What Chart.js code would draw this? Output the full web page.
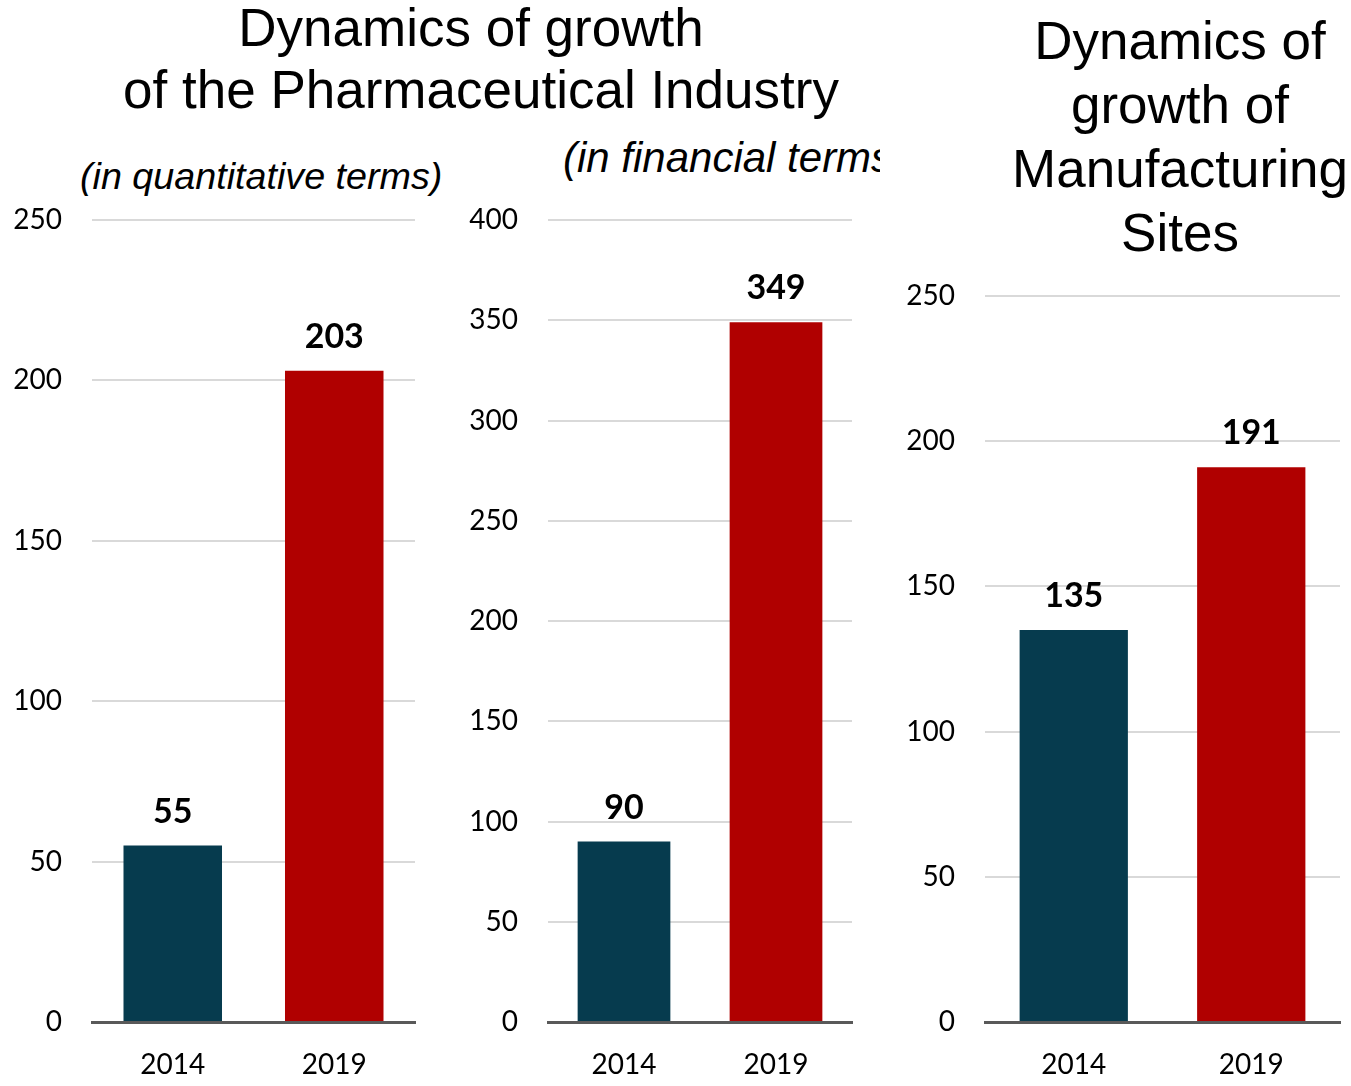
<!DOCTYPE html>
<html>
<head>
<meta charset="utf-8">
<script src="https://cdn.jsdelivr.net/npm/chart.js@4"></script>
<style>
  html, body { margin: 0; padding: 0; background: #fff; }
  body { width: 1351px; height: 1086px; position: relative; overflow: hidden; font-family: "Liberation Sans", Arial, sans-serif; color: #000; }
  .title { position: absolute; font-size: 53px; line-height: 62px; text-align: center; white-space: nowrap; }
  .sub { position: absolute; font-style: italic; white-space: nowrap; overflow: hidden; }
  .box { position: absolute; top: 200px; height: 886px; }
</style>
</head>
<body>
  <div class="title" style="left:0; width:942px; top:-3px;">Dynamics of growth</div>
  <div class="title" style="left:0; width:962px; top:59px;">of the Pharmaceutical Industry</div>
  <div class="sub" style="left:80px; top:156px; font-size:37.7px; line-height:40px;">(in quantitative terms)</div>
  <div class="sub" style="left:563px; top:135px; width:317px; font-size:42px; line-height:46px;">(in financial terms)</div>
  <div class="title" style="left:1002px; width:356px; top:9px; line-height:64px;">Dynamics of<br>growth of<br>Manufacturing<br>Sites</div>

  <div class="box" style="left:0; width:420px;"><canvas id="c1"></canvas></div>
  <div class="box" style="left:450px; width:410px;"><canvas id="c2"></canvas></div>
  <div class="box" style="left:880px; width:471px;"><canvas id="c3"></canvas></div>

<script>
const years = ["2014", "2019"];
const quantValues = [55, 203];
const financeValues = [90, 349];
const sitesValues = [135, 191];
const quantTicks = [0, 50, 100, 150, 200, 250];
const financeTicks = [0, 50, 100, 150, 200, 250, 300, 350, 400];
const sitesTicks = [0, 50, 100, 150, 200, 250];
const barColors = ["#063b4e", "#b00000"];

// value labels drawn above each bar
const valueLabels = {
  id: "valueLabels",
  afterDatasetsDraw(chart) {
    const ctx = chart.ctx;
    const meta = chart.getDatasetMeta(0);
    ctx.save();
    ctx.font = "bold 34px Lato, 'Open Sans', sans-serif";
    ctx.fillStyle = "#000";
    ctx.textAlign = "center";
    ctx.textBaseline = "alphabetic";
    meta.data.forEach((bar, i) => {
      ctx.fillText(chart.data.datasets[0].data[i], bar.x, bar.y - 23);
    });
    ctx.restore();
  }
};

const makeChart = (id, values, ticks, axisWidth, padTop, padRight) => {
  const max = ticks[ticks.length - 1];
  return new Chart(document.getElementById(id), {
    type: "bar",
    data: {
      labels: years,
      datasets: [{
        data: values,
        backgroundColor: barColors,
        categoryPercentage: 1,
        barPercentage: 0.61
      }]
    },
    options: {
      responsive: true,
      maintainAspectRatio: false,
      animation: false,
      layout: { padding: { top: padTop, right: padRight, left: 0, bottom: 0 } },
      plugins: { legend: { display: false }, tooltip: { enabled: false } },
      scales: {
        x: {
          grid: { display: false, drawTicks: false },
          border: { display: true, color: "#595959", width: 3 },
          ticks: { color: "#000", padding: 26, font: { family: "Lato", size: 28 } },
          afterFit: (scale) => { scale.height = 64; }
        },
        y: {
          min: 0,
          max: max,
          afterBuildTicks: (scale) => { scale.ticks = ticks.map((v) => ({ value: v })); },
          grid: { color: "#d9d9d9", lineWidth: 2, drawTicks: false },
          border: { display: false },
          ticks: { color: "#000", padding: 30, font: { family: "Lato", size: 28 } },
          afterFit: (scale) => {
            scale.width = axisWidth;
            scale.paddingTop = 0;
            scale.paddingBottom = 0;
          }
        }
      }
    },
    plugins: [valueLabels]
  });
};

makeChart("c1", quantValues, quantTicks, 92, 20, 5);
makeChart("c2", financeValues, financeTicks, 98, 20, 8);
makeChart("c3", sitesValues, sitesTicks, 105, 96, 11);
</script>
</body>
</html>
